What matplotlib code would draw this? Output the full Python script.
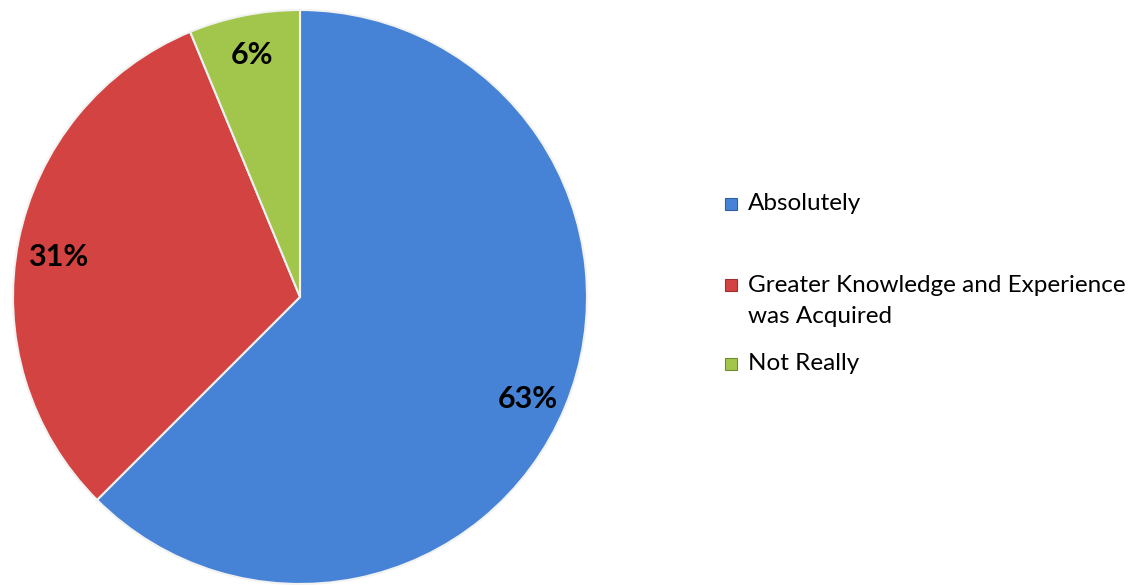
import matplotlib
matplotlib.use("Agg")
import matplotlib.pyplot as plt
from matplotlib.patches import Rectangle
import numpy as np

categories = ["Absolutely", "Greater Knowledge and Experience\nwas Acquired", "Not Really"]
values = [62.5, 31.25, 6.25]
pct_labels = ["63%", "31%", "6%"]
colors = ["#4683D6", "#D34341", "#A2C64B"]
edge_colors = ["#2F5F9E", "#9E2F2E", "#6F8C2C"]

plt.rcParams['font.family'] = ['Lato', 'DejaVu Sans']

W, H = 1135, 585
fig = plt.figure(figsize=(W / 100, H / 100), dpi=100)
cx, cy, r = 300, 297, 287
ax = fig.add_axes([(cx - r) / W, (H - cy - r) / H, 2 * r / W, 2 * r / H])
wedges, texts = ax.pie(values, colors=colors, startangle=90, counterclock=False,
                       radius=1.0, wedgeprops=dict(edgecolor="#F2F2F2", linewidth=1.5))
ax.set_xlim(-1, 1)
ax.set_ylim(-1, 1)
ax.set_aspect("equal")
ax.axis("off")

for w, lab in zip(wedges, pct_labels):
    ang = np.deg2rad((w.theta1 + w.theta2) / 2)
    ax.text(0.86 * np.cos(ang), 0.86 * np.sin(ang) - 0.03 * abs(np.cos(ang)) ** 2, lab,
            ha="center", va="center", fontsize=22, fontweight="bold", color="black")

# legend
rows_y = [204, 285, 364]
for lab, col, ec, y in zip(categories, colors, edge_colors, rows_y):
    fig.patches.append(Rectangle((725 / W, (H - y - 6) / H), 12 / W, 12 / H,
                                 transform=fig.transFigure, facecolor=col,
                                 edgecolor=ec, linewidth=0.8))
    nlines = lab.count("\n") + 1
    yc = y + (nlines - 1) * 32 / 2
    fig.text(748 / W, (H - yc) / H, lab, ha="left", va="center",
             fontsize=17.5, color="black", linespacing=1.55)

fig.savefig("out.png", dpi=100)
